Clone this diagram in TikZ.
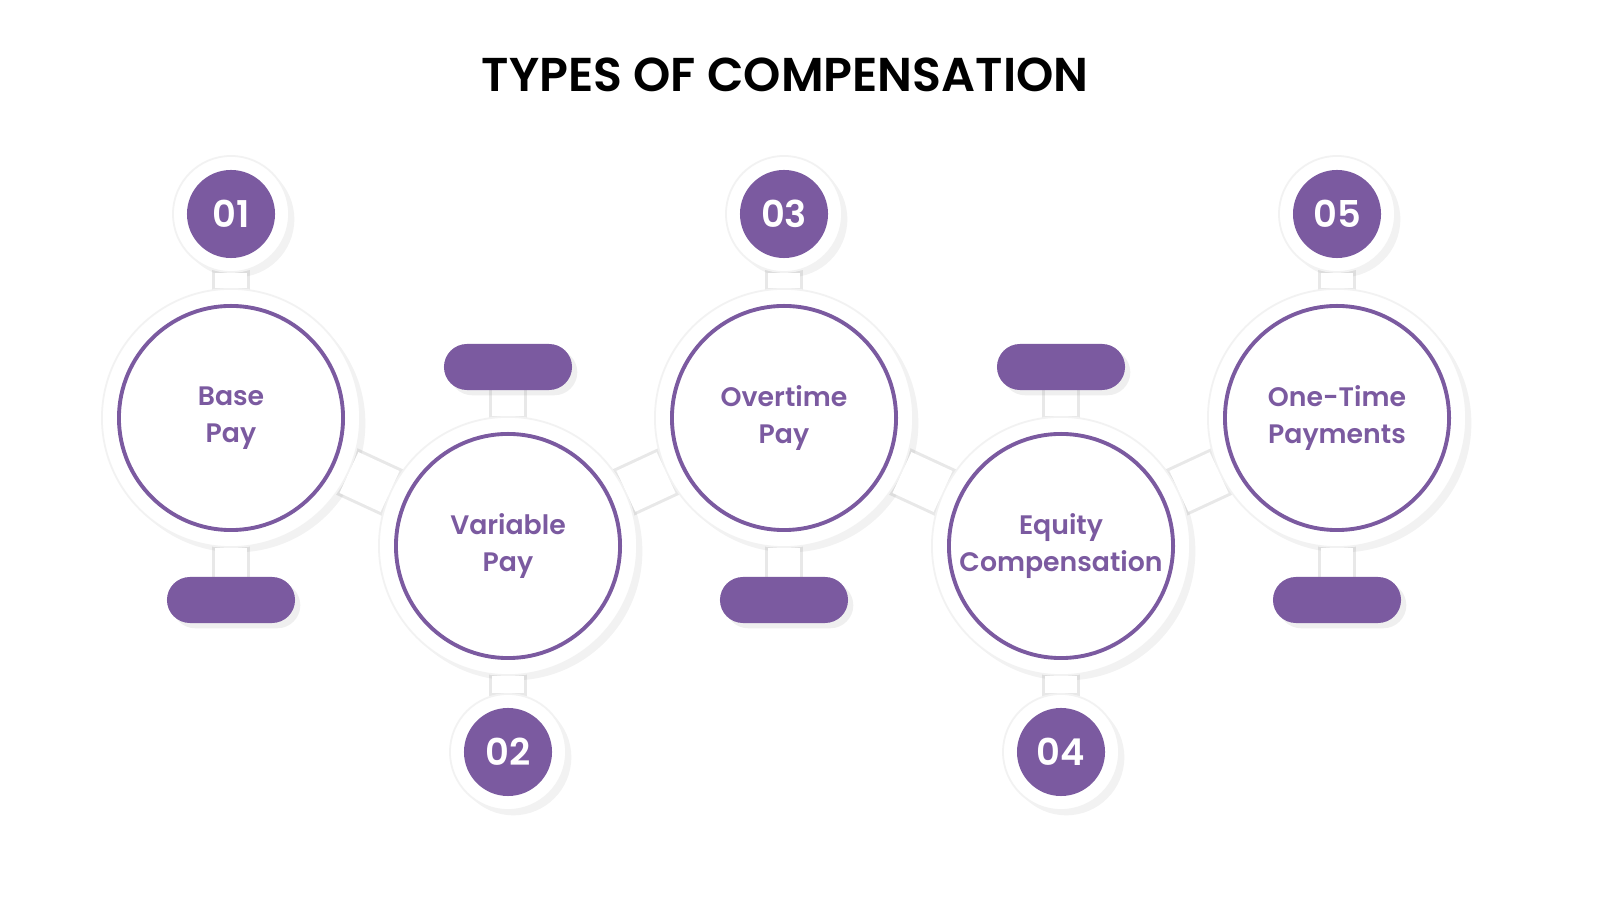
\documentclass[tikz,border=0pt]{standalone}
\usepackage{fontspec}
\setmainfont{Poppins}[BoldFont={Poppins SemiBold}]
\usetikzlibrary{positioning,shadows}
\definecolor{violeta}{HTML}{7B5AA0}
\begin{document}
\begin{tikzpicture}[x=0.01cm,y=0.01cm]
  % estilos
  \tikzset{
   halo/.style={circle, fill=white, draw=black!5, line width=0.5pt, inner sep=0pt,
           drop shadow={opacity=0.10, shadow xshift=1.5pt, shadow yshift=-1.5pt}},
   anillo/.style={circle, draw=violeta, line width=1.1pt, fill=white, inner sep=0pt,
           minimum size=2.24cm, text=violeta, align=center,
           font=\bfseries\fontsize{7.6}{10.5}\selectfont},
   numero/.style={circle, fill=violeta, minimum size=0.88cm, inner sep=0pt, text=white,
           font=\bfseries\fontsize{10.5}{12}\selectfont},
   pastilla/.style={rectangle, rounded corners=0.23cm, fill=violeta,
           minimum width=1.28cm, minimum height=0.46cm,
           drop shadow={opacity=0.12, shadow xshift=1.5pt, shadow yshift=-1.5pt}},
   tallo/.style={white, line width=0.32cm},
   borde/.style={black!9, line width=0.38cm}
  }
  \useasboundingbox (0,0) rectangle (1600,900);
  \clip (0,0) rectangle (1600,900);
  \fill[white] (0,0) rectangle (1600,900);
  \node[font=\bfseries\fontsize{13.5}{16}\selectfont] (titulo) at (785,825) {TYPES OF COMPENSATION};

  % posiciones
  \coordinate (c1) at (231,482);
  \coordinate (c2) at (508,354);
  \coordinate (c3) at (784,482);
  \coordinate (c4) at (1061,354);
  \coordinate (c5) at (1337,482);

  % bordes de los tallos
  \foreach \i/\ny/\py in {1/686/300, 2/148/533, 3/686/300, 4/148/533, 5/686/300}{
    \draw[borde] (c\i) -- (c\i |- 0,\ny);
    \draw[borde] (c\i) -- (c\i |- 0,\py);
  }
  \foreach \a/\b in {1/2, 2/3, 3/4, 4/5}
    \draw[borde, line width=0.51cm] (c\a) -- (c\b);

  % halos
  \foreach \i/\ny/\py in {1/686/300, 2/148/533, 3/686/300, 4/148/533, 5/686/300}{
    \node[halo, minimum size=1.16cm] (h\i n) at (c\i |- 0,\ny) {};
    \node[halo, minimum size=2.58cm] (h\i) at (c\i) {};
  }
  \foreach \i/\ny/\py in {1/686/300, 2/148/533, 3/686/300, 4/148/533, 5/686/300}{
    \draw[tallo] (h\i) -- (h\i n);
    \draw[tallo] (h\i) -- (c\i |- 0,\py);
  }
  \foreach \a/\b in {1/2, 2/3, 3/4, 4/5}
    \draw[tallo, line width=0.45cm] (h\a) -- (h\b);
  \foreach \i in {1,...,5}{
    \fill[white] (c\i) circle (1.27cm);
    \fill[white] (h\i n) circle (0.56cm);
  }

  % contenido
  \node[anillo] (b1) at (c1) {Base\\Pay};
  \node[anillo] (b2) at (c2) {Variable\\Pay};
  \node[anillo] (b3) at (c3) {Overtime\\Pay};
  \node[anillo] (b4) at (c4) {Equity\\Compensation};
  \node[anillo] (b5) at (c5) {One-Time\\Payments};

  \foreach \i/\ny/\py in {1/686/300, 2/148/533, 3/686/300, 4/148/533, 5/686/300}{
    \node[numero] (n\i) at (h\i n) {0\i};
    \node[pastilla] (p\i) at (c\i |- 0,\py) {};
  }
\end{tikzpicture}
\end{document}
